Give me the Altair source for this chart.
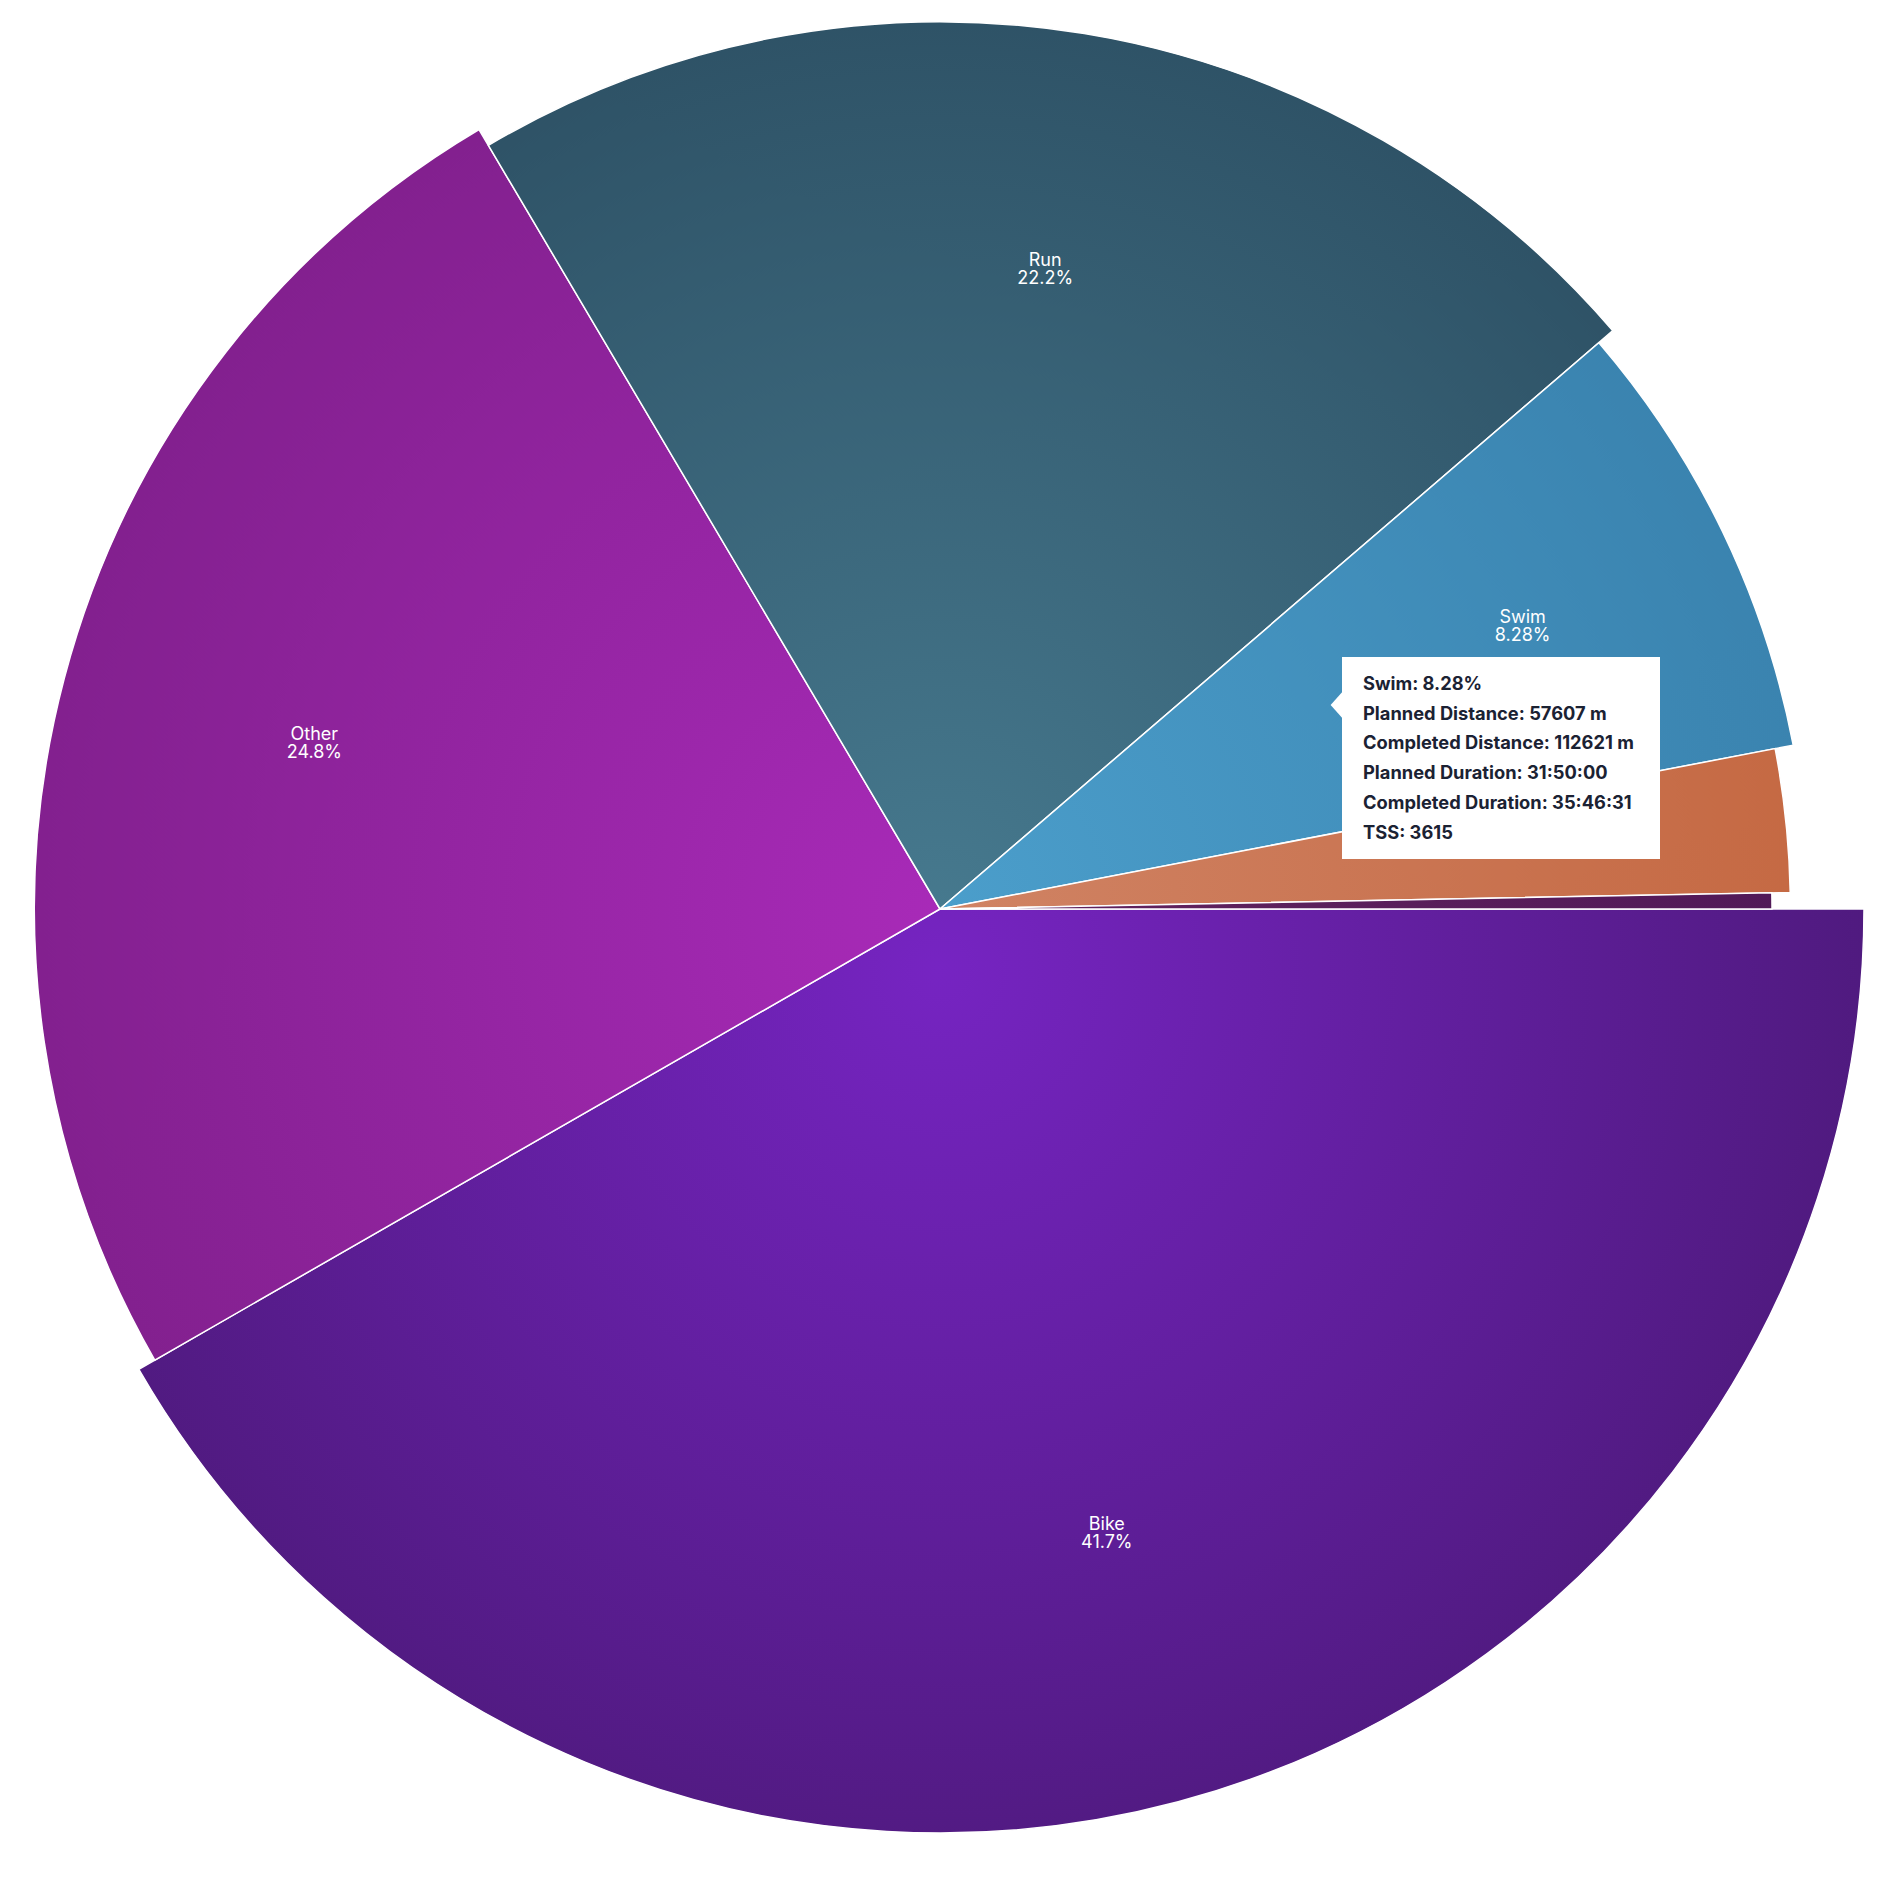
import math
import altair as alt
import pandas as pd

# ---- data ----
categories = ["Bike", "Other", "Run", "Swim", "Strength", "Walk"]
shares = [41.7, 24.8, 22.2, 8.28, 2.71, 0.31]          # percent of total
ranks = [1, 2, 3, 4, 5, 6]                              # draw order (clockwise from 3 o'clock)
inner_colors = ["#7624c2", "#a82ab8", "#46798e", "#4b9ecb", "#d08364", "#63245f"]
outer_colors = ["#4f1a7e", "#82208e", "#2e5266", "#3a83af", "#c56943", "#511958"]

# tooltip shown for the hovered slice
tip_category = "Swim"
tip_planned_distance = 57607
tip_completed_distance = 112621
tip_planned_duration = "31:50:00"
tip_completed_duration = "35:46:31"
tip_tss = 3615

# ---- layout / style ----
W, H = 1864, 1802
R_MAX, R_MIN = 924, 832
LABEL_R = 647
START = math.pi / 2
total = sum(shares)

theta_scale = alt.Scale(domain=[0, total], range=[START, START + 2 * math.pi])
radius_scale = alt.Scale(type="linear", domain=[1, 6], range=[R_MAX, R_MIN], zero=False)

df = pd.DataFrame({"category": categories, "share": shares, "rank": ranks})

base = (
    alt.Chart(df)
    .transform_window(cum="sum(share)", sort=[alt.SortField("rank")])
    .transform_calculate(start="datum.cum - datum.share", mid="datum.cum - datum.share / 2")
)


def arc_bbox(a0, a1, r):
    xs, ys = [0.0], [0.0]
    for a in (a0, a1):
        xs.append(r * math.sin(a))
        ys.append(-r * math.cos(a))
    k = math.ceil(a0 / (math.pi / 2) - 1e-9)
    while k * math.pi / 2 < a1:
        a = k * math.pi / 2
        xs.append(r * math.sin(a))
        ys.append(-r * math.cos(a))
        k += 1
    return min(xs), min(ys), max(xs), max(ys)


def radial_for(i, cum_start, share, rank, shift_y=0.0):
    a0 = START + 2 * math.pi * cum_start / total
    a1 = START + 2 * math.pi * (cum_start + share) / total
    r = R_MAX + (rank - 1) * (R_MIN - R_MAX) / 5
    x0, y0, x1, y1 = arc_bbox(a0, a1, r)
    w, h = x1 - x0, y1 - y0
    s = max(w, h)
    ox = x0 + w / 2 - s / 2
    oy = y0 + h / 2 - s / 2
    gx = (0 - ox) / s
    gy = (shift_y - oy) / s
    return {
        "gradient": "radial",
        "x1": gx, "y1": gy, "r1": 0,
        "x2": gx, "y2": gy, "r2": r / s * 1.02,
        "stops": [
            {"offset": 0, "color": inner_colors[i]},
            {"offset": 1, "color": outer_colors[i]},
        ],
    }


layers = []
cum = 0.0
for i, cat in enumerate(categories):
    grad = radial_for(i, cum, shares[i], ranks[i], shift_y=60.0 if cat == "Bike" else 0.0)
    cum += shares[i]
    layers.append(
        base.transform_filter(alt.datum.category == cat)
        .mark_arc(fill=grad, stroke="#ffffff", strokeWidth=1.5)
        .encode(
            theta=alt.Theta("start:Q", scale=theta_scale),
            theta2="cum:Q",
            radius=alt.Radius("rank:Q", scale=radius_scale),
            radius2=alt.value(0),
            tooltip=[alt.Tooltip("category:N"), alt.Tooltip("share:Q", title="%")],
        )
    )

label_base = base.transform_filter(alt.datum.share > 5).transform_calculate(
    pct="format(datum.share, '.3~r') + '%'"
)
name_labels = label_base.mark_text(
    radius=LABEL_R, fontSize=18, font="Inter", color="#ffffff",
    align="center", baseline="middle", dy=-9.5,
).encode(
    theta=alt.Theta("mid:Q", scale=theta_scale, stack=False),
    text="category:N",
)
pct_labels = label_base.mark_text(
    radius=LABEL_R, fontSize=18, font="Inter", color="#ffffff",
    align="center", baseline="middle", dy=8.5,
).encode(
    theta=alt.Theta("mid:Q", scale=theta_scale, stack=False),
    text="pct:N",
)

# ---- tooltip overlay (as drawn in the reference) ----
i_tip = categories.index(tip_category)
tip_lines = [
    f"{tip_category}: {shares[i_tip]}%",
    f"Planned Distance: {tip_planned_distance} m",
    f"Completed Distance: {tip_completed_distance} m",
    f"Planned Duration: {tip_planned_duration}",
    f"Completed Duration: {tip_completed_duration}",
    f"TSS: {tip_tss}",
]
tip_df = pd.DataFrame({"text": ["\n".join(tip_lines)]})

tip_box = alt.Chart(tip_df).mark_rect(fill="#ffffff").encode(
    x=alt.value(1334), x2=alt.value(1652), y=alt.value(649), y2=alt.value(851)
)
tip_arrow = alt.Chart(tip_df).mark_point(
    shape="M 0.45 -1 L -0.45 0 L 0.45 1 Z", filled=True, fill="#ffffff", opacity=1, strokeWidth=0, size=800
).encode(x=alt.value(1329), y=alt.value(697))
tip_text = alt.Chart(tip_df).mark_text(
    font="Inter", fontSize=18.3, fontWeight="bold", color="#1b2233",
    align="left", baseline="middle", lineBreak="\n", lineHeight=29.7,
).encode(x=alt.value(1355), y=alt.value(677), text="text:N")

chart = (
    alt.layer(*layers, name_labels, pct_labels, tip_box, tip_arrow, tip_text)
    .properties(width=W, height=H, padding=0)
    .configure_view(strokeWidth=0)
)

chart.save("out.html", embed_options={"renderer": "svg", "actions": False})
